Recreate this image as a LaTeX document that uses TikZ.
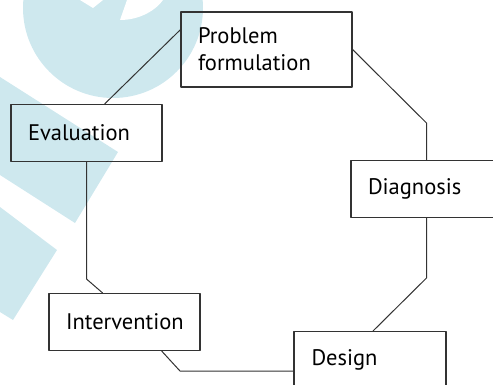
\documentclass[tikz,border=0pt]{standalone}
\usepackage{fontspec}
\setsansfont{PT Sans}
\definecolor{logocyan}{RGB}{206,232,238}
\definecolor{boxgray}{RGB}{51,51,51}
\tikzset{stage/.style={draw=boxgray,line width=1.1pt,minimum width=151,minimum height=57,text width=117,align=left,inner xsep=17pt,inner ysep=0pt}}
\begin{document}
\begin{tikzpicture}[x=1pt,y=-1pt,line join = round, line cap = round,font=\sffamily\fontsize{22.5}{27}\selectfont]
			\useasboundingbox (0,0) rectangle (493,384);
			\clip (0,0) rectangle (493,384);
			%Hình nền
			\fill [logocyan] (113,8) circle(90);
			\fill [white] (80,0)--(103,0)--(93,8)--cycle;
			\fill [white] (127,0)--(120,20) .. controls (140,20) and (156,10) .. (163,0)--cycle;
			\fill [logocyan] (0,77)--(118,152)--(75,223)--(0,175)--cycle;
			\fill [logocyan] (0,207)--(57,250)--(13,320)--(0,312)--cycle;
			%Các khối
			\node [stage,minimum width=171,minimum height=75,text width=137] (prob) at (266.5,49.5) {Problem\\formulation};
			\node [stage] (eval) at (86.5,133) {Evaluation};
			\node [stage,minimum width=160,text width=126] (diag) at (431,189) {Diagnosis};
			\node [stage] (inter) at (124.5,322) {Intervention};
			\node [stage,minimum width=152] (design) at (370,360) {Design};
			%Các điểm gãy
			\coordinate (b1) at (426.5,123);
			\coordinate (b2) at (426.5,278);
			\coordinate (b3) at (86.5,279);
			\coordinate (b4) at (180,371);
			%Các đường nối
			\draw [boxgray,line width=1pt] (prob.167)--(eval.58);
			\draw [boxgray,line width=1pt] (prob.east)--(b1)--(diag.north -| b1);
			\draw [boxgray,line width=1pt] (diag.south -| b2)--(b2)--(design.84);
			\draw [boxgray,line width=1pt] (eval.south)--(b3)--(inter.127);
			\draw [boxgray,line width=1pt] (inter.-38)--(b4)--(design.west |- b4);
		\end{tikzpicture}
\end{document}
